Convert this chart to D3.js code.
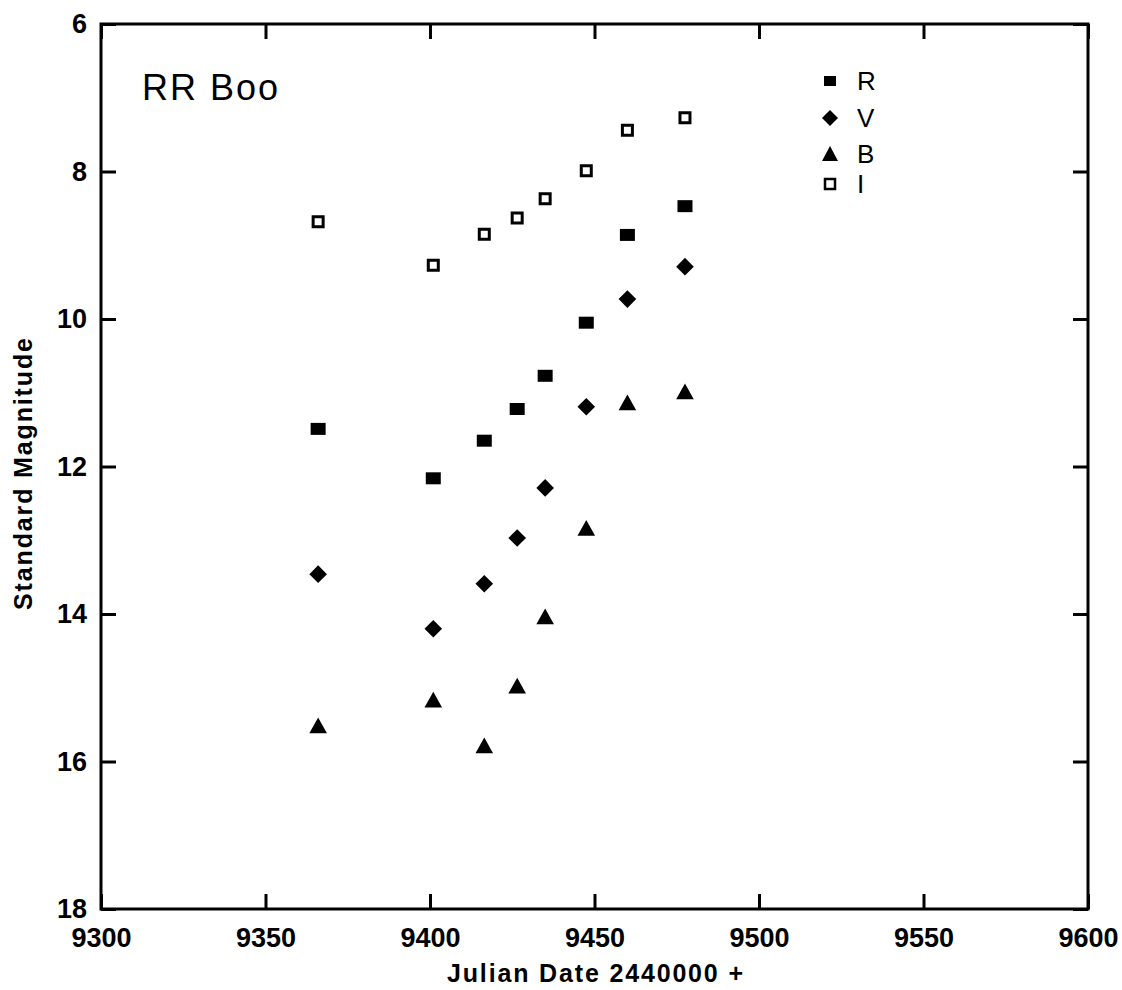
<!DOCTYPE html>
<html>
<head>
<meta charset="utf-8">
<script src="https://cdn.jsdelivr.net/npm/d3@7"></script>
<style>
  html, body { margin: 0; padding: 0; background: #fff; }
  svg { display: block; font-family: "Liberation Sans", Arial, Helvetica, sans-serif; }
</style>
</head>
<body>
<svg id="chart" width="1122" height="990"></svg>
<script>
// ---- data ----
const julianDates = [9366, 9401, 9416.5, 9426.5, 9435, 9447.5, 9460, 9477.5];
const magR = [11.49, 12.16, 11.65, 11.22, 10.77, 10.05, 8.86, 8.47];
const magV = [13.46, 14.20, 13.59, 12.97, 12.29, 11.19, 9.73, 9.29];
const magB = [15.52, 15.17, 15.79, 14.98, 14.04, 12.84, 11.14, 10.99];
const magI = [8.68, 9.27, 8.85, 8.63, 8.37, 7.99, 7.44, 7.27];
const seriesNames = ["R", "V", "B", "I"];
const xTicks = [9300, 9350, 9400, 9450, 9500, 9550, 9600];
const yTicks = [6, 8, 10, 12, 14, 16, 18];
const chartTitle = "RR Boo";
const xTitle = "Julian Date 2440000 +";
const yTitle = "Standard Magnitude";

// ---- layout ----
const svg = d3.select("#chart");
const L = 101, R = 1088, T = 24, B = 909;
const x = d3.scaleLinear().domain([9300, 9600]).range([L, R]);
const y = d3.scaleLinear().domain([6, 18]).range([T, B]);

// marker shapes (centered at 0,0)
function markerPath(kind) {
  if (kind === "R") return "M-7.5,-6H7.5V6H-7.5Z";
  if (kind === "V") return "M0,-8.8L8.8,0L0,8.8L-8.8,0Z";
  if (kind === "B") return "M0,-8.5L8.8,7.2H-8.8Z";
  return "M-5,-5H5V5H-5Z";
}
function drawMarker(g, kind) {
  if (kind === "I") {
    g.append("path").attr("d", markerPath(kind))
      .attr("fill", "#fff").attr("stroke", "#000").attr("stroke-width", 3);
  } else {
    g.append("path").attr("d", markerPath(kind)).attr("fill", "#000");
  }
}

// ---- axes ----
const axisStyle = g => {
  g.select(".domain").remove();
  g.selectAll(".tick line").attr("stroke", "#000").attr("stroke-width", 3);
  g.selectAll(".tick text").attr("fill", "#000").attr("font-weight", "bold")
    .attr("font-size", 27).attr("font-family", "Liberation Sans, Arial, sans-serif");
};

svg.append("g").attr("transform", `translate(0,${B})`)
  .call(d3.axisBottom(x).tickValues(xTicks).tickSize(-15).tickSizeOuter(0).tickPadding(19).tickFormat(d3.format("d")))
  .call(axisStyle);
svg.append("g").attr("transform", `translate(0,${T})`)
  .call(d3.axisTop(x).tickValues(xTicks).tickSize(-15).tickSizeOuter(0).tickFormat(""))
  .call(axisStyle);
svg.append("g").attr("transform", `translate(${L},0)`)
  .call(d3.axisLeft(y).tickValues(yTicks).tickSize(-15).tickSizeOuter(0).tickPadding(14).tickFormat(d3.format("d")))
  .call(axisStyle);
svg.append("g").attr("transform", `translate(${R},0)`)
  .call(d3.axisRight(y).tickValues(yTicks).tickSize(-15).tickSizeOuter(0).tickFormat(""))
  .call(axisStyle);

// frame
svg.append("rect").attr("x", L).attr("y", T).attr("width", R - L).attr("height", B - T)
  .attr("fill", "none").attr("stroke", "#000").attr("stroke-width", 3);

// ---- titles ----
svg.append("text").attr("x", 142).attr("y", 100)
  .attr("font-size", 36).attr("fill", "#000")
  .attr("textLength", 136).attr("lengthAdjust", "spacing")
  .text(chartTitle);

svg.append("text").attr("x", 595).attr("y", 982)
  .attr("text-anchor", "middle").attr("font-size", 25).attr("font-weight", "bold").attr("fill", "#000")
  .attr("textLength", 296).attr("lengthAdjust", "spacing")
  .text(xTitle);

svg.append("text").attr("transform", "translate(32,474) rotate(-90)")
  .attr("text-anchor", "middle").attr("font-size", 25).attr("font-weight", "bold").attr("fill", "#000")
  .attr("textLength", 272).attr("lengthAdjust", "spacing")
  .text(yTitle);

// ---- data points ----
const seriesData = { R: magR, V: magV, B: magB, I: magI };
seriesNames.forEach(name => {
  const vals = seriesData[name];
  julianDates.forEach((jd, i) => {
    const g = svg.append("g").attr("transform", `translate(${x(jd)},${y(vals[i])})`);
    drawMarker(g, name);
  });
});

// ---- legend ----
const legendY = [81, 118, 154, 184];
const leg = svg.append("g");
seriesNames.forEach((name, i) => {
  const g = leg.append("g").attr("transform", `translate(830,${legendY[i]})`);
  if (name === "R") g.append("path").attr("d", "M-6,-5H6V5H-6Z").attr("fill", "#000");
  else if (name === "V") g.append("path").attr("d", "M0,-8L8,0L0,8L-8,0Z").attr("fill", "#000");
  else if (name === "B") g.append("path").attr("d", "M0,-8L8,7H-8Z").attr("fill", "#000");
  else g.append("path").attr("d", "M-5,-5H5V5H-5Z").attr("fill", "#fff").attr("stroke", "#000").attr("stroke-width", 2.5);
  g.append("text").attr("x", 27).attr("y", 0).attr("dy", "0.36em")
    .attr("font-size", 26).attr("fill", "#000").text(name);
});
</script>
</body>
</html>
